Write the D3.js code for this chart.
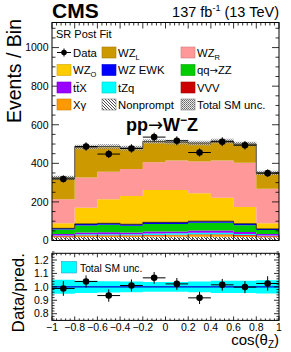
<!DOCTYPE html>
<html>
<head>
<meta charset="utf-8">
<script src="https://cdn.jsdelivr.net/npm/d3@7"></script>
<style>
  body { margin: 0; background: #fff; }
  text { font-family: "Liberation Sans", Arial, sans-serif; fill: #000; }
  .arrow { font-family: "DejaVu Sans", sans-serif; }
</style>
</head>
<body>
<svg id="chart" width="291" height="352"></svg>
<script>
// bins of cos(theta_Z)
const binEdges = [-1, -0.8, -0.6, -0.4, -0.2, 0, 0.2, 0.4, 0.6, 0.8, 1];

// post-fit yields per bin (stack order bottom -> top)
const nonprompt = [17, 18, 18, 18, 19, 19, 20, 20, 18, 17];
const xgamma    = [4, 6, 6, 6, 7, 8, 10, 10, 7, 4];
const vvv       = [2, 3, 3, 3, 3, 3, 3, 3, 3, 2];
const tzq       = [3, 6, 6, 6, 7, 7, 7, 7, 6, 3];
const ttx       = [8, 9, 10, 9, 11, 10, 12, 12, 10, 8];
const qqzz      = [23, 36, 38, 34, 39, 39, 40, 40, 35, 20];
const wzEwk     = [6, 8, 8, 8, 8, 8, 8, 8, 8, 6];
const wzO       = [26, 84, 125, 147, 168, 168, 145, 122, 87, 29];
const wzR       = [125, 156, 143, 139, 144, 153, 165, 193, 229, 179];
const wzL       = [111, 158, 130, 109, 107, 95, 95, 100, 97, 83];
const totalUnc  = [11, 12, 12, 12, 12, 12, 12, 12, 12, 11];

// observed data
const dataVals = [319, 487, 448, 477, 536, 517, 456, 512, 494, 349];
const dataErr  = [18, 22, 21, 22, 23, 23, 21, 23, 22, 19];

// ratio panel
const ratioVals = [0.988, 1.04, 0.935, 1.01, 1.067, 1.022, 0.918, 1.015, 0.998, 1.025];
const ratioErr  = [0.055, 0.045, 0.046, 0.045, 0.044, 0.044, 0.046, 0.044, 0.045, 0.054];
const ratioUnc  = [0.052, 0.045, 0.042, 0.04, 0.037, 0.037, 0.04, 0.045, 0.045, 0.05];

const yTicks = [0, 200, 400, 600, 800, 1000];
const rTicks = [0.8, 0.9, 1.0, 1.1, 1.2];
const xTicks = [-1, -0.8, -0.6, -0.4, -0.2, 0, 0.2, 0.4, 0.6, 0.8, 1];

const procs = [
  { key: "nonprompt", vals: nonprompt, color: "url(#hatch)" },
  { key: "xgamma", vals: xgamma, color: "#ff9900" },
  { key: "vvv", vals: vvv, color: "#cc0000" },
  { key: "tzq", vals: tzq, color: "#00ffff" },
  { key: "ttx", vals: ttx, color: "#9900ff" },
  { key: "qqzz", vals: qqzz, color: "#00cc00" },
  { key: "wzEwk", vals: wzEwk, color: "#0000ff" },
  { key: "wzO", vals: wzO, color: "#ffcc00" },
  { key: "wzR", vals: wzR, color: "#ff9999" },
  { key: "wzL", vals: wzL, color: "#cc9900" }
];

const svg = d3.select("#chart");
const L = 52, R = 279;
const x = d3.scaleLinear().domain([-1, 1]).range([L, R]);
const y = d3.scaleLinear().domain([0, 1130]).range([240.5, 22.5]);
const yr = d3.scaleLinear().domain([0.75, 1.25]).range([320.4, 253.3]);

const defs = svg.append("defs");
const hatch = defs.append("pattern").attr("id", "hatch")
  .attr("patternUnits", "userSpaceOnUse").attr("width", 3).attr("height", 3);
hatch.append("rect").attr("width", 3).attr("height", 3).attr("fill", "#fff");
hatch.append("path").attr("d", "M0,0L3,3M-1,2L1,4M2,-1L4,1")
  .attr("stroke", "#000").attr("stroke-width", 0.7);
const unc = defs.append("pattern").attr("id", "unc")
  .attr("patternUnits", "userSpaceOnUse").attr("width", 2).attr("height", 2);
unc.append("rect").attr("width", 1).attr("height", 1).attr("fill", "#666");
unc.append("rect").attr("x", 1).attr("y", 1).attr("width", 1).attr("height", 1).attr("fill", "#888");
unc.append("rect").attr("x", 1).attr("y", 0).attr("width", 1).attr("height", 1).attr("fill", "#ddd").attr("opacity", 0.6);
unc.append("rect").attr("x", 0).attr("y", 1).attr("width", 1).attr("height", 1).attr("fill", "#ddd").attr("opacity", 0.6);

// helpers for step shapes
function steps(lo, hi) {
  const pts = [];
  for (let i = 0; i < binEdges.length - 1; i++) {
    pts.push({ x: binEdges[i], lo: lo[i], hi: hi[i] });
    pts.push({ x: binEdges[i + 1], lo: lo[i], hi: hi[i] });
  }
  return pts;
}

// ---------- main panel ----------
const table = binEdges.slice(0, -1).map((e, i) => {
  const row = { lo: e };
  procs.forEach(p => row[p.key] = p.vals[i]);
  return row;
});
const series = d3.stack().keys(procs.map(p => p.key))(table);
const total = table.map((r, i) => d3.sum(procs, p => p.vals[i]));

const area = d3.area().x(d => x(d.x)).y0(d => y(d.lo)).y1(d => y(d.hi));
const main = svg.append("g");

series.forEach((s, k) => {
  const pts = steps(s.map(d => d[0]), s.map(d => d[1]));
  main.append("path").attr("d", area(pts)).attr("fill", procs[k].color);
});

// dark line on top of the small backgrounds
const ewkTop = series[6].map(d => d[1]);
const line = d3.line().x(d => x(d.x)).y(d => y(d.hi));
main.append("path").attr("d", line(steps(ewkTop, ewkTop)))
  .attr("fill", "none").attr("stroke", "#111").attr("stroke-width", 0.8);

// total uncertainty band
main.append("path")
  .attr("d", area(steps(total.map((t, i) => t - totalUnc[i]), total.map((t, i) => t + totalUnc[i]))))
  .attr("fill", "url(#unc)").attr("opacity", 0.85);
main.append("path").attr("d", line(steps(total, total)))
  .attr("fill", "none").attr("stroke", "#333").attr("stroke-width", 0.8);

// data
const mids = binEdges.slice(0, -1).map((e, i) => (e + binEdges[i + 1]) / 2);
const dg = main.append("g");
dataVals.forEach((v, i) => {
  dg.append("line").attr("x1", x(binEdges[i])).attr("x2", x(binEdges[i + 1]))
    .attr("y1", y(v)).attr("y2", y(v)).attr("stroke", "#000");
  dg.append("line").attr("x1", x(mids[i])).attr("x2", x(mids[i]))
    .attr("y1", y(v - dataErr[i])).attr("y2", y(v + dataErr[i])).attr("stroke", "#000");
  dg.append("circle").attr("cx", x(mids[i])).attr("cy", y(v)).attr("r", 3.3).attr("fill", "#000");
});

// frame + ticks
function frame(top, bottom) {
  svg.append("rect").attr("x", L).attr("y", top).attr("width", R - L).attr("height", bottom - top)
    .attr("fill", "none").attr("stroke", "#000").attr("stroke-width", 1);
}
function xTickMarks(top, bottom, majLen, minLen) {
  const g = svg.append("g").attr("stroke", "#000").attr("stroke-width", 0.8);
  for (let k = 0; k <= 50; k++) {
    const v = -1 + k * 0.04;
    const len = k % 5 === 0 ? majLen : minLen;
    g.append("line").attr("x1", x(v)).attr("x2", x(v)).attr("y1", bottom).attr("y2", bottom - len);
    g.append("line").attr("x1", x(v)).attr("x2", x(v)).attr("y1", top).attr("y2", top + len);
  }
}
frame(22.5, 240.5);
xTickMarks(22.5, 240.5, 6, 3);
const mt = svg.append("g").attr("stroke", "#000").attr("stroke-width", 0.8);
for (let v = 0; v <= 1100; v += 50) {
  const len = v % 200 === 0 ? 7 : 3.5;
  mt.append("line").attr("x1", L).attr("x2", L + len).attr("y1", y(v)).attr("y2", y(v));
  mt.append("line").attr("x1", R).attr("x2", R - len).attr("y1", y(v)).attr("y2", y(v));
}
svg.append("g").selectAll("text").data(yTicks).join("text")
  .attr("x", 48.5).attr("y", d => y(d)).attr("dy", "0.36em")
  .attr("text-anchor", "end").attr("font-size", 10.5).text(d => d);

// ---------- ratio panel ----------
const rp = svg.append("g");
const rArea = d3.area().x(d => x(d.x)).y0(d => yr(d.lo)).y1(d => yr(d.hi));
rp.append("path")
  .attr("d", rArea(steps(ratioUnc.map(u => 1 - u), ratioUnc.map(u => 1 + u))))
  .attr("fill", "#00ffff");
rp.append("line").attr("x1", L).attr("x2", R).attr("y1", yr(1)).attr("y2", yr(1))
  .attr("stroke", "#0000cc").attr("stroke-width", 1.2);
ratioVals.forEach((v, i) => {
  rp.append("line").attr("x1", x(binEdges[i])).attr("x2", x(binEdges[i + 1]))
    .attr("y1", yr(v)).attr("y2", yr(v)).attr("stroke", "#000");
  rp.append("line").attr("x1", x(mids[i])).attr("x2", x(mids[i]))
    .attr("y1", yr(v - ratioErr[i])).attr("y2", yr(v + ratioErr[i])).attr("stroke", "#000");
  rp.append("circle").attr("cx", x(mids[i])).attr("cy", yr(v)).attr("r", 3.3).attr("fill", "#000");
});
frame(253.3, 320.4);
xTickMarks(253.3, 320.4, 4, 2);
const rt = svg.append("g").attr("stroke", "#000").attr("stroke-width", 0.8);
for (let k = 0; k <= 25; k++) {
  const v = 0.76 + k * 0.02;
  const len = (Math.round(v * 100) % 10 === 0) ? 5 : 2.5;
  rt.append("line").attr("x1", L).attr("x2", L + len).attr("y1", yr(v)).attr("y2", yr(v));
  rt.append("line").attr("x1", R).attr("x2", R - len).attr("y1", yr(v)).attr("y2", yr(v));
}
svg.append("g").selectAll("text").data(rTicks).join("text")
  .attr("x", 48.5).attr("y", d => yr(d)).attr("dy", "0.36em")
  .attr("text-anchor", "end").attr("font-size", 10.5).text(d => d.toFixed(1));
svg.append("g").selectAll("text").data(xTicks).join("text")
  .attr("x", d => x(d)).attr("y", 330.5).attr("text-anchor", "middle").attr("font-size", 10.5)
  .text(d => d === 0 ? "0" : (d < 0 ? "\u2212" : "") + d3.format("")(Math.abs(d)));

// ratio legend
svg.append("rect").attr("x", 61.5).attr("y", 261.5).attr("width", 15).attr("height", 11.5)
  .attr("fill", "#00ffff").attr("stroke", "#3399cc").attr("stroke-width", 0.6);
svg.append("text").attr("x", 80).attr("y", 271.5).attr("font-size", 10.3).text("Total SM unc.");

// ---------- titles ----------
svg.append("text").attr("x", 52).attr("y", 18).attr("font-size", 21).attr("font-weight", "bold").text("CMS");
const lumi = svg.append("text").attr("x", 279).attr("y", 17).attr("text-anchor", "end").attr("font-size", 14.5);
lumi.append("tspan").text("137 fb");
lumi.append("tspan").attr("font-size", 9).attr("dy", -6).text("-1");
lumi.append("tspan").attr("dy", 6).text(" (13 TeV)");

svg.append("text").attr("transform", "translate(21,19) rotate(-90)")
  .attr("text-anchor", "end").attr("font-size", 19.5).text("Events / Bin");
svg.append("text").attr("transform", "translate(24,253) rotate(-90)")
  .attr("text-anchor", "end").attr("font-size", 17).text("Data/pred.");

const xt = svg.append("text").attr("x", 279).attr("y", 345).attr("text-anchor", "end").attr("font-size", 15);
xt.append("tspan").text("cos(\u03b8");
xt.append("tspan").attr("font-size", 10).attr("dy", 3).text("Z");
xt.append("tspan").attr("dy", -3).text(")");

const proc = svg.append("text").attr("x", 162).attr("y", 131).attr("text-anchor", "middle")
  .attr("font-size", 18).attr("font-weight", "bold");
proc.append("tspan").text("pp");
proc.append("tspan").attr("class", "arrow").attr("font-weight", "normal").text("\u2192");
proc.append("tspan").text("W");
proc.append("tspan").attr("font-size", 12).attr("dy", -7).text("\u2212");
proc.append("tspan").attr("dy", 7).text("Z");

svg.append("text").attr("x", 56).attr("y", 38).attr("font-size", 11).text("SR Post Fit");

// ---------- legend ----------
const colX = [57, 102, 181];
const rowY = [52.5, 70, 87.5, 104.5];
const legend = [
  { label: "Data", type: "data", c: 0, r: 0 },
  { label: "WZ", sub: "L", fill: "#cc9900", c: 1, r: 0 },
  { label: "WZ", sub: "R", fill: "#ff9999", c: 2, r: 0 },
  { label: "WZ", sub: "O", fill: "#ffcc00", c: 0, r: 1 },
  { label: "WZ EWK", fill: "#0000ff", c: 1, r: 1 },
  { label: "qq", arrow: "ZZ", fill: "#00cc00", c: 2, r: 1 },
  { label: "tt\u0304X", fill: "#9900ff", c: 0, r: 2 },
  { label: "tZq", fill: "#00ffff", c: 1, r: 2 },
  { label: "VVV", fill: "#cc0000", c: 2, r: 2 },
  { label: "X\u03b3", fill: "#ff9900", c: 0, r: 3 },
  { label: "Nonprompt", fill: "url(#hatch)", c: 1, r: 3 },
  { label: "Total SM unc.", fill: "url(#unc)", c: 2, r: 3 }
];
const lg = svg.append("g");
legend.forEach(e => {
  const lx = colX[e.c], ly = rowY[e.r];
  if (e.type === "data") {
    lg.append("line").attr("x1", lx).attr("x2", lx + 14).attr("y1", ly).attr("y2", ly).attr("stroke", "#000");
    lg.append("line").attr("x1", lx + 7).attr("x2", lx + 7).attr("y1", ly - 4).attr("y2", ly + 4).attr("stroke", "#000");
    lg.append("circle").attr("cx", lx + 7).attr("cy", ly).attr("r", 2.8).attr("fill", "#000");
  } else {
    lg.append("rect").attr("x", lx).attr("y", ly - 5.5).attr("width", 14).attr("height", 11)
      .attr("fill", e.fill)
      .attr("stroke", e.fill.startsWith("url") ? "#777" : d3.color(e.fill).darker(0.6))
      .attr("stroke-width", 0.6);
  }
  const t = lg.append("text").attr("x", lx + 16).attr("y", ly + 4).attr("font-size", 11.3);
  t.append("tspan").text(e.label);
  if (e.arrow) {
    t.append("tspan").attr("class", "arrow").attr("font-size", 10).text("\u2192");
    t.append("tspan").text(e.arrow);
  }
  if (e.sub) t.append("tspan").attr("font-size", 7.5).attr("dy", 3).text(e.sub);
});
</script>
</body>
</html>
